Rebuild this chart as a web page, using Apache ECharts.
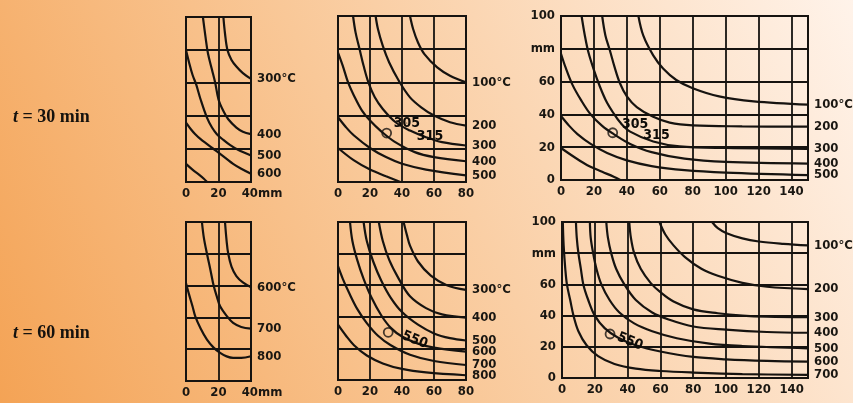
<!DOCTYPE html>
<html><head><meta charset="utf-8">
<script src="https://cdn.jsdelivr.net/npm/echarts@6/dist/echarts.min.js"></script>
<style>html,body{margin:0;padding:0;background:#fbd3ad;} #c{width:853px;height:403px;}</style>
</head><body><div id="c"></div>
<script>
// ---------- DATA (x mm, y mm) ----------
// Panel 1: t = 30 min, 0-40 mm
const p1_300 = [[23,100],[24,90],[25.5,80],[28,74],[31,70],[35,66],[40,62.5]];
const p1_400 = [[10.4,100],[12,88],[13.5,78],[16,68],[18,60],[20,50],[23,43],[26,38],[31,33],[35,30.5],[40,29]];
const p1_500 = [[0,80],[2,72],[4,65],[6.3,59],[9,50],[12.9,39],[16,33],[19,29],[23,25.5],[27,22.5],[32,19.5],[40,16]];
const p1_600 = [[0,36],[3,32],[5.7,29],[9,26],[13,23],[17,20],[21,17],[25,14],[29,11],[34,8],[40,5]];
const p1_700 = [[0,11],[4,7.5],[8,4.5],[11,2],[13,0]];
// Panel 2: t = 30 min, 0-80 mm
const p2_100 = [[45,100],[47,92],[50,84],[54,77],[62,69],[70,64],[80,60]];
const p2_200 = [[23.5,100],[25,92],[28,82],[32,72],[38,61],[45,51],[52,45],[60,40],[70,36],[80,34]];
const p2_300 = [[9.4,100],[11,90],[13.5,80],[16,70],[19,60],[23,51],[28,44],[36,36],[45,31],[55,27],[65,24],[80,22]];
const p2_400 = [[0,78],[3,70],[6.3,60],[10,52],[15,43],[20,37],[27,30.5],[35,24.5],[48,18],[60,15],[80,12.5]];
const p2_500 = [[0,39],[5,33],[10,28],[20,20.5],[30,15],[40,11],[55,7.5],[80,4]];
const p2_600 = [[0,20.5],[10,13],[20,7.5],[30,3.5],[39,0]];
const p2_marker = [[30.4,29.5]];
const p2_notes = [['305',43,35.5],['315',57.5,27.3]];
// Panel 3: t = 30 min, 0-150 mm
const p3_100 = [[47,100],[50,88],[56,76],[62,68],[70,61],[80,56],[96,51],[117,48],[150,46]];
const p3_200 = [[25,100],[27,88],[29.7,79],[32.5,69],[35.8,59],[40,51],[46,44.5],[56,38.5],[66,35],[80,33.3],[110,32.7],[150,32.5]];
const p3_300 = [[12.5,100],[14.5,88],[16.6,78],[20,67],[23.6,57],[27.5,48],[31.7,41],[36,35],[42,29.5],[56,23.5],[72,20.5],[100,19.5],[150,19]];
const p3_400 = [[0,77],[3,68],[7,58],[12,49],[18,40],[25,33],[32,28],[42,22],[55,17],[75,13],[100,11],[150,10]];
const p3_500 = [[0,39],[5,33],[10,28],[18,22],[28,16.5],[40,12],[55,8.5],[75,6],[100,4.5],[150,3]];
const p3_600 = [[0,19.5],[8,14],[16,9],[25,5],[32,2],[36,0]];
const p3_marker = [[31.4,28.8]];
const p3_notes = [['305',45,34],['315',58,27.4]];
// Panel 4: t = 60 min, 0-40 mm
const p4_600 = [[24,100],[25,88],[26,80],[28,72],[31,66],[35,62],[40,59]];
const p4_700 = [[9.8,100],[11,90],[12.9,80],[15,70],[17,60],[19,53],[21,47],[25,41],[29,36.5],[34,34],[40,33]];
const p4_800 = [[0,61.5],[2,54],[4,47],[5.7,40.6],[9,33],[12.9,26],[17,21],[21,17.7],[25,15.5],[29,14.6],[34,14.6],[40,15.6]];
// Panel 5: t = 60 min, 0-80 mm
const p5_300 = [[41,100],[43,92],[45,85],[50,75],[58,66],[68,60],[80,57]];
const p5_400 = [[25.5,100],[28,88],[32,76],[38,64],[45,53],[55,45.5],[65,41.5],[80,39.5]];
const p5_500 = [[16,100],[18,88],[22,75],[27,63],[33,52],[40,43],[50,35],[60,29.5],[70,26.5],[80,25]];
const p5_600 = [[7.5,100],[9,88],[12,76],[16,64],[21,52],[27,41],[33,33],[40,27.5],[50,23],[60,20.5],[80,18]];
const p5_700 = [[0,72],[3,64],[7,55],[12,45],[18,36],[25,28],[33,22],[45,16],[60,12],[80,9.5]];
const p5_800 = [[0,35],[5,28],[10,22],[18,15.5],[28,10.5],[40,7],[55,4.8],[80,3]];
const p5_marker = [[31.4,30.2]];
const p5_notes = [['550',48,25.3]];
// Panel 6: t = 60 min, 0-150 mm
const p6_100 = [[91.5,100],[95,96],[100,93],[110,89.5],[120,87.5],[135,86],[150,85]];
const p6_200 = [[59.4,100],[63,92],[68,85],[75,77.5],[85,70],[95,65.5],[110,61],[125,58.5],[150,57]];
const p6_300 = [[41,100],[42,90],[44,80],[48,70],[54,61],[60,55],[68,49],[80,44],[95,41.5],[110,40],[125,39.3],[150,39]];
const p6_400 = [[27,100],[28,90],[30,80],[33,70],[38,60],[45,50],[55,42],[65,37.5],[80,33],[100,31],[125,29.5],[150,29]];
const p6_500 = [[17,100],[17.5,90],[19,80],[21,70],[24,60],[29,50],[35,42],[44,35],[55,30],[70,25.5],[90,22],[110,20.5],[150,19]];
const p6_600 = [[8.5,100],[9,90],[10,80],[11.5,70],[13,60],[16,50],[20,40],[26,32],[34,26],[45,21],[60,17],[80,13.5],[100,12],[125,11],[150,10.5]];
const p6_700 = [[0.5,100],[1,85],[2,70],[3,60],[5,50],[7,40],[10,30],[15,21],[22,14],[32,9],[45,6],[60,4.5],[80,3.5],[110,2.5],[150,2]];
const p6_marker = [[29.3,28.2]];
const p6_notes = [['550',41.5,23.3]];

const xTicks30 = [0, 20, 40];
const yTickNames = {80: 'mm'};
const rowTitles = ['30', '60'];

// ---------- BUILD ----------
const INK = '#161310';
const TXT = '#1a1712';
const FONT = "'DejaVu Sans Condensed','Liberation Sans',sans-serif";

const panels = [
  {grid:{left:186,top:17,width:65,height:165}, xmax:40, yl:false, unit:true,
   curves:[['300°C',p1_300],['400',p1_400],['500',p1_500],['600',p1_600],['',p1_700]]},
  {grid:{left:338,top:16,width:128,height:166}, xmax:80, yl:false,
   curves:[['100°C',p2_100],['200',p2_200],['300',p2_300],['400',p2_400],['500',p2_500],['',p2_600]],
   marker:p2_marker, notes:p2_notes, rot:0},
  {grid:{left:561,top:16,width:247,height:164}, xmax:150, yl:true,
   curves:[['100°C',p3_100],['200',p3_200],['300',p3_300],['400',p3_400],['500',p3_500],['',p3_600]],
   marker:p3_marker, notes:p3_notes, rot:0},
  {grid:{left:186,top:222,width:65,height:159}, xmax:40, yl:false, unit:true,
   curves:[['600°C',p4_600],['700',p4_700],['800',p4_800]]},
  {grid:{left:338,top:222,width:128,height:158}, xmax:80, yl:false,
   curves:[['300°C',p5_300],['400',p5_400],['500',p5_500],['600',p5_600],['700',p5_700],['800',p5_800]],
   marker:p5_marker, notes:p5_notes, rot:-22},
  {grid:{left:562,top:222,width:246,height:156}, xmax:150, yl:true,
   curves:[['100°C',p6_100],['200',p6_200],['300',p6_300],['400',p6_400],['500',p6_500],['600',p6_600],['700',p6_700]],
   marker:p6_marker, notes:p6_notes, rot:-22}
];

const grids = [], xAxes = [], yAxes = [], series = [];
panels.forEach((p, i) => {
  grids.push(Object.assign({show:true, borderColor:INK, borderWidth:2, backgroundColor:'transparent', containLabel:false}, p.grid));
  xAxes.push({type:'value', gridIndex:i, min:0, max:p.xmax, interval:20,
    axisLine:{show:true, onZero:false, lineStyle:{color:INK, width:2}},
    axisTick:{show:false},
    splitLine:{show:true, lineStyle:{color:INK, width:1.8}},
    axisLabel:{show:true, margin:5, color:TXT, fontFamily:FONT, fontSize:13, fontWeight:'bold',
      showMaxLabel: p.xmax !== 150,
      formatter: v => (v > 140 ? '' : (p.unit && v === xTicks30[2] ? '{u|' + v + 'mm}' : String(v))),
      rich:{u:{padding:[0,0,0,22], color:TXT, fontFamily:FONT, fontSize:13, fontWeight:'bold'}}}});
  yAxes.push({type:'value', gridIndex:i, min:0, max:100, interval:20,
    axisLine:{show:true, onZero:false, lineStyle:{color:INK, width:2}},
    axisTick:{show:false},
    splitLine:{show:true, lineStyle:{color:INK, width:1.8}},
    axisLabel:{show:p.yl, margin:6, color:TXT, fontFamily:FONT, fontSize:13, fontWeight:'bold',
      formatter: v => yTickNames[v] || String(v)}});
  p.curves.forEach(([name, data]) => {
    series.push({type:'line', name:name, xAxisIndex:i, yAxisIndex:i, data:data,
      showSymbol:false, smooth:0.35, silent:true, animation:false,
      lineStyle:{color:INK, width:2.2},
      endLabel:{show: name !== '', formatter: name, distance:6, color:TXT,
        fontFamily:FONT, fontSize:13, fontWeight:'bold'}});
  });
  if (p.marker) {
    series.push({type:'scatter', xAxisIndex:i, yAxisIndex:i, data:p.marker, symbol:'circle', symbolSize:9,
      silent:true, animation:false, z:5,
      itemStyle:{color:'rgba(0,0,0,0)', borderColor:INK, borderWidth:1.8}});
    series.push({type:'scatter', xAxisIndex:i, yAxisIndex:i, silent:true, animation:false, z:6,
      data:p.notes.map(n => ({name:n[0], value:[n[1], n[2]]})),
      symbolSize:1, itemStyle:{color:INK, opacity:1},
      label:{show:true, position:'inside', formatter:'{b}', rotate:p.rot, color:'#0d0b08',
        fontFamily:FONT, fontSize:14, fontWeight:'bold'}});
  }
});

const chart = echarts.init(document.getElementById('c'), null, {renderer:'canvas'});
chart.setOption({
  animation:false,
  backgroundColor: new echarts.graphic.LinearGradient(0, 1, 1, 0, [
    {offset:0, color:'#f4a355'}, {offset:0.45, color:'#f9c898'}, {offset:1, color:'#fff3ea'}]),
  grid:grids, xAxis:xAxes, yAxis:yAxes, series:series,
  graphic: rowTitles.map((m, k) => ({type:'text', left:13, top: k === 0 ? 108 : 324,
    style:{text:'{i|t} = ' + m + ' min', fill:'#15120e',
      font:"bold 18px 'Liberation Serif', 'DejaVu Serif', serif",
      rich:{i:{fontStyle:'italic', fontWeight:'bold', fontSize:18, fontFamily:"'Liberation Serif', serif", fill:'#15120e'}}}}))
});
</script></body></html>
